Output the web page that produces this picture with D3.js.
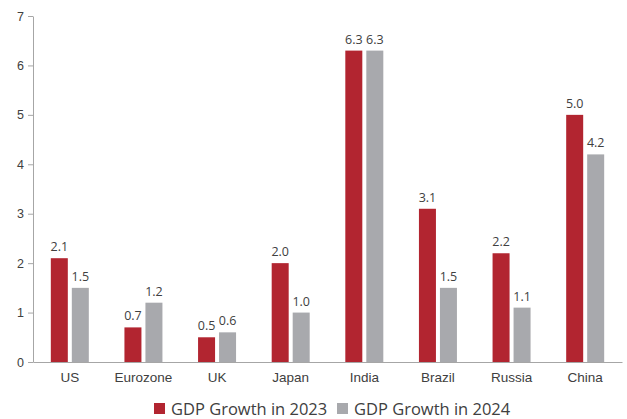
<!DOCTYPE html>
<html>
<head>
<meta charset="utf-8">
<script src="https://cdn.jsdelivr.net/npm/d3@7"></script>
<style>
  html, body { margin: 0; padding: 0; background: #fff; }
  svg { display: block; font-family: "Open Sans", "Noto Sans", sans-serif; }
</style>
</head>
<body>
<svg id="chart" width="627" height="419"></svg>
<script>
// GDP growth by economy, 2023 vs 2024
const categories = ["US", "Eurozone", "UK", "Japan", "India", "Brazil", "Russia", "China"];
const growth2023 = [2.1, 0.7, 0.5, 2.0, 6.3, 3.1, 2.2, 5.0];
const growth2024 = [1.5, 1.2, 0.6, 1.0, 6.3, 1.5, 1.1, 4.2];
const seriesNames = ["GDP Growth in 2023", "GDP Growth in 2024"];
const yTicks = [0, 1, 2, 3, 4, 5, 6, 7];

const colors = ["#b22530", "#a8a9ad"];
const textColor = "#404040";
const axisColor = "#a6a6a6";

const svg = d3.select("#chart");
const margin = { left: 33, right: 5, top: 16, bottom: 57 };
const W = 627, H = 419;

const x = d3.scaleBand().domain(categories).range([margin.left, W - margin.right]).paddingInner(0).paddingOuter(0);
const y = d3.scaleLinear().domain([0, 7]).range([H - margin.bottom, margin.top]);

const barW = 17, gap = 4;
const groupW = barW * 2 + gap;

// Y axis
const yAxis = svg.append("g").attr("transform", `translate(${margin.left},0)`)
  .call(d3.axisLeft(y).tickValues(yTicks).tickFormat(d3.format("d")).tickSize(5).tickSizeOuter(0));
yAxis.select(".domain").attr("stroke", axisColor);
yAxis.selectAll(".tick line").attr("stroke", axisColor);
yAxis.selectAll(".tick text").attr("fill", textColor).attr("font-size", 12.5).attr("x", -9);

// X axis
const xAxis = svg.append("g").attr("transform", `translate(0,${y(0)})`)
  .call(d3.axisBottom(x).tickSize(0).tickSizeOuter(0));
xAxis.select(".domain").attr("stroke", axisColor);
xAxis.selectAll(".tick text").attr("fill", textColor).attr("font-size", 13.5).attr("dy", "1.25em");

const series = [growth2023, growth2024];
series.forEach((vals, si) => {
  const g = svg.append("g");
  const xPos = c => x(c) + (x.bandwidth() - groupW) / 2 + si * (barW + gap);
  g.selectAll("rect").data(categories).join("rect")
    .attr("x", c => xPos(c))
    .attr("width", barW)
    .attr("y", (c, i) => y(vals[i]))
    .attr("height", (c, i) => y(0) - y(vals[i]))
    .attr("fill", colors[si]);
  g.selectAll("text").data(categories).join("text")
    .attr("x", c => xPos(c) + barW / 2)
    .attr("y", (c, i) => y(vals[i]) - 7)
    .attr("text-anchor", "middle")
    .attr("font-size", 12.5)
    .attr("fill", textColor)
    .text((c, i) => d3.format(".1f")(vals[i]));
});

// Legend
const legend = svg.append("g").attr("transform", "translate(154,403)");
const offsets = [0, 183];
seriesNames.forEach((name, i) => {
  const it = legend.append("g").attr("transform", `translate(${offsets[i]},0)`);
  it.append("rect").attr("width", 11).attr("height", 11).attr("fill", colors[i]);
  it.append("text").attr("x", 17).attr("y", 11.5).attr("font-size", 16.5).attr("fill", textColor).text(name);
});
</script>
</body>
</html>
